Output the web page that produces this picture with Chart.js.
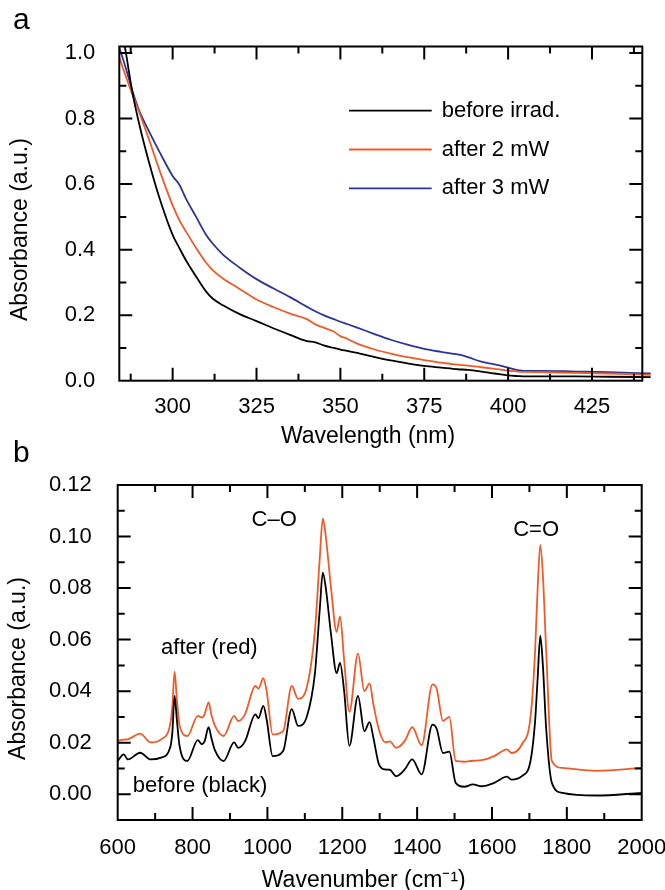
<!DOCTYPE html>
<html>
<head>
<meta charset="utf-8">
<script src="https://cdn.jsdelivr.net/npm/chart.js@4.4.1/dist/chart.umd.min.js"></script>
<style>
  html, body { margin: 0; padding: 0; background: #fff; width: 665px; height: 890px; overflow: hidden; }
  #chartA { position: absolute; left: 0; top: 0; }
  #chartB { position: absolute; left: 0; top: 435px; }
</style>
</head>
<body>
<canvas id="chartA" width="665" height="450"></canvas>
<canvas id="chartB" width="665" height="459"></canvas>
<script>
// ---------- Panel a: UV-vis absorbance ----------
const uvWavelength = [284, 286, 288, 290, 293, 296, 300, 302, 304, 307, 310, 312, 315, 320, 325, 330, 335, 340, 342.5, 345, 348, 350, 352, 355, 360, 365, 370, 375, 380, 385, 388, 392, 396, 400, 403, 405, 410, 420, 430, 442.5];
const absBefore = [1.12, 1.005, 0.88, 0.785, 0.665, 0.56, 0.445, 0.405, 0.367, 0.318, 0.272, 0.25, 0.23, 0.203, 0.182, 0.16, 0.14, 0.121, 0.117, 0.108, 0.1, 0.095, 0.091, 0.085, 0.073, 0.062, 0.053, 0.045, 0.04, 0.035, 0.033, 0.028, 0.022, 0.016, 0.014, 0.013, 0.013, 0.013, 0.012, 0.011];
const absAfter2mW = [0.99, 0.93, 0.874, 0.82, 0.735, 0.645, 0.535, 0.49, 0.455, 0.405, 0.36, 0.337, 0.312, 0.28, 0.248, 0.225, 0.205, 0.188, 0.172, 0.162, 0.15, 0.136, 0.128, 0.113, 0.096, 0.083, 0.072, 0.063, 0.055, 0.049, 0.046, 0.041, 0.036, 0.031, 0.028, 0.027, 0.026, 0.024, 0.022, 0.018];
const absAfter3mW = [1.02, 0.955, 0.885, 0.825, 0.76, 0.7, 0.625, 0.598, 0.555, 0.5, 0.445, 0.418, 0.385, 0.345, 0.31, 0.282, 0.255, 0.226, 0.212, 0.2, 0.188, 0.18, 0.173, 0.162, 0.143, 0.125, 0.11, 0.097, 0.088, 0.08, 0.072, 0.058, 0.05, 0.04, 0.032, 0.03, 0.03, 0.028, 0.026, 0.022];
const uvSeriesLabels = ['before irrad.', 'after 2 mW', 'after 3 mW'];
const uvXTicks = [287.5, 300, 312.5, 325, 337.5, 350, 362.5, 375, 387.5, 400, 412.5, 425, 437.5];
const uvXLabels = [300, 325, 350, 375, 400, 425];
const uvYTicks = [0, 0.1, 0.2, 0.3, 0.4, 0.5, 0.6, 0.7, 0.8, 0.9, 1.0];
const uvYLabels = [0, 0.2, 0.4, 0.6, 0.8, 1.0];

// ---------- Panel b: FTIR absorbance ----------
const irWavenumber = [600, 616, 627, 660, 688, 716, 740, 746, 752, 758, 765, 786, 814, 825, 832, 843, 850, 860, 883, 911, 922, 940, 968, 976, 989, 998, 1014, 1042, 1065, 1082, 1105, 1127, 1140, 1148, 1156, 1170, 1185, 1194, 1205, 1219, 1242, 1259, 1273, 1283, 1298, 1315, 1327, 1344, 1367, 1387, 1412, 1441, 1452, 1469, 1486, 1503, 1526, 1549, 1572, 1606, 1640, 1652, 1680, 1703, 1715, 1722, 1729, 1736, 1745, 1760, 1788, 1879, 2000];
const irBefore = [0.0129, 0.0155, 0.0135, 0.0161, 0.0135, 0.0142, 0.018, 0.024, 0.0382, 0.029, 0.019, 0.0129, 0.021, 0.0194, 0.0205, 0.026, 0.022, 0.017, 0.0129, 0.0201, 0.018, 0.0205, 0.031, 0.0295, 0.0343, 0.029, 0.0148, 0.0168, 0.033, 0.0265, 0.030, 0.047, 0.072, 0.086, 0.080, 0.062, 0.047, 0.051, 0.040, 0.0188, 0.0382, 0.0245, 0.028, 0.022, 0.0116, 0.0096, 0.0095, 0.007, 0.0096, 0.0135, 0.0077, 0.027, 0.0255, 0.016, 0.0165, 0.0044, 0.0029, 0.0038, 0.0031, 0.0044, 0.0068, 0.0057, 0.007, 0.013, 0.028, 0.045, 0.0615, 0.050, 0.025, 0.0044, 0.0005, -0.0005, 0.0005];
const irAfter = [0.0207, 0.0212, 0.0213, 0.0235, 0.0201, 0.0213, 0.027, 0.034, 0.0476, 0.037, 0.027, 0.0226, 0.0304, 0.0297, 0.031, 0.0356, 0.031, 0.0265, 0.0226, 0.0304, 0.0284, 0.031, 0.042, 0.041, 0.045, 0.040, 0.0232, 0.0245, 0.042, 0.037, 0.0414, 0.0636, 0.092, 0.107, 0.100, 0.080, 0.063, 0.069, 0.052, 0.032, 0.0546, 0.040, 0.043, 0.035, 0.025, 0.0201, 0.0205, 0.018, 0.0207, 0.026, 0.019, 0.0426, 0.041, 0.0285, 0.030, 0.0129, 0.0126, 0.013, 0.0132, 0.0148, 0.0174, 0.016, 0.0194, 0.030, 0.055, 0.080, 0.0968, 0.085, 0.055, 0.0129, 0.0102, 0.0091, 0.0102];
const irSeriesLabels = ['before (black)', 'after (red)'];
const irXTicks = [700, 800, 900, 1000, 1100, 1200, 1300, 1400, 1500, 1600, 1700, 1800, 1900];
const irXLabels = [600, 800, 1000, 1200, 1400, 1600, 1800, 2000];
const irYTicks = [0, 0.01, 0.02, 0.03, 0.04, 0.05, 0.06, 0.07, 0.08, 0.09, 0.10, 0.11, 0.12];
const irYLabels = [0, 0.02, 0.04, 0.06, 0.08, 0.10, 0.12];
const irAnnotations = [
  { text: 'C\u2013O', x: 1018, y: 0.1063 },
  { text: 'C=O', x: 1718, y: 0.1025 },
  { text: 'after (red)', x: 845, y: 0.0566 },
  { text: 'before (black)', x: 820, y: 0.0032 }
];

// ---------- shared styling / helpers ----------
const FONT = '"Liberation Sans", Arial, Helvetica, sans-serif';
const BLACK = '#000000', ORANGE = '#f05a28', BLUE = '#2b3595';
Chart.defaults.font.family = FONT;
Chart.defaults.color = '#000';

function labelCb(labels, digits) {
  return v => labels.some(l => Math.abs(l - v) < 1e-9) ? Number(v).toFixed(digits) : '';
}
function setTicks(allTicks, labels) {
  return scale => {
    const vals = allTicks.concat(labels).filter((v, i, arr) => arr.findIndex(w => Math.abs(w - v) < 1e-9) === i);
    vals.sort((p, q) => p - q);
    scale.ticks = vals.map(v => ({ value: v }));
  };
}
function fixWidth(w) { return s => { s.width = w; s.paddingTop = 0; s.paddingBottom = 0; }; }
function fixHeight(h) { return s => { s.height = h; s.paddingLeft = 0; s.paddingRight = 0; }; }

const frameTicks = {
  id: 'frameTicks',
  afterDraw(chart, args, o) {
    const { ctx, chartArea: a } = chart;
    const xs = chart.scales.x, ys = chart.scales.y;
    ctx.save();
    ctx.strokeStyle = '#000';
    ctx.lineWidth = 2;
    ctx.beginPath();
    xs.ticks.forEach(t => {
      const p = xs.getPixelForValue(t.value);
      if (p < a.left + 1.5 || p > a.right - 1.5) return;
      const L = t.label !== '' ? o.major : o.minor;
      ctx.moveTo(p, a.bottom); ctx.lineTo(p, a.bottom - L);
      ctx.moveTo(p, a.top); ctx.lineTo(p, a.top + L);
    });
    ys.ticks.forEach(t => {
      const p = ys.getPixelForValue(t.value);
      if (p < a.top + 1.5 || p > a.bottom - 1.5) return;
      const L = t.label !== '' ? o.major : o.minor;
      ctx.moveTo(a.left, p); ctx.lineTo(a.left + L, p);
      ctx.moveTo(a.right, p); ctx.lineTo(a.right - L, p);
    });
    ctx.stroke();
    ctx.strokeRect(a.left, a.top, a.right - a.left, a.bottom - a.top);
    ctx.restore();
  }
};

const panelLetter = {
  id: 'panelLetter',
  afterDraw(chart, args, o) {
    const ctx = chart.ctx;
    ctx.save();
    ctx.font = o.size + 'px ' + FONT;
    ctx.fillStyle = '#000';
    ctx.textAlign = 'left';
    ctx.textBaseline = 'alphabetic';
    ctx.fillText(o.text, o.x, o.y);
    ctx.restore();
  }
};

const insideLegend = {
  id: 'insideLegend',
  afterDraw(chart, args, o) {
    const { ctx, chartArea: a } = chart;
    ctx.save();
    ctx.font = o.size + 'px ' + FONT;
    ctx.textAlign = 'left';
    ctx.textBaseline = 'middle';
    chart.data.datasets.forEach((ds, i) => {
      const y = a.top + o.top + i * o.gap;
      ctx.strokeStyle = ds.borderColor;
      ctx.lineWidth = ds.borderWidth;
      ctx.beginPath();
      ctx.moveTo(a.left + o.lineStart, y);
      ctx.lineTo(a.left + o.lineEnd, y);
      ctx.stroke();
      ctx.fillStyle = '#000';
      ctx.fillText(ds.label, a.left + o.textStart, y);
    });
    ctx.restore();
  }
};

const annotate = {
  id: 'annotate',
  afterDraw(chart, args, o) {
    const ctx = chart.ctx, xs = chart.scales.x, ys = chart.scales.y;
    ctx.save();
    ctx.font = o.size + 'px ' + FONT;
    ctx.fillStyle = '#000';
    ctx.textAlign = 'center';
    ctx.textBaseline = 'middle';
    o.items.forEach(it => ctx.fillText(it.text, xs.getPixelForValue(it.x), ys.getPixelForValue(it.y)));
    ctx.restore();
  }
};

const tickFont = { size: 22, family: FONT };
const titleFont = { size: 23, family: FONT };

function series(xArr, yArr, label, color, clip) {
  return {
    label: label,
    data: xArr.map((x, i) => ({ x: x, y: yArr[i] })),
    borderColor: color,
    backgroundColor: color,
    borderWidth: 1.8,
    pointRadius: 0,
    fill: false,
    cubicInterpolationMode: 'monotone',
    clip: clip
  };
}

// ---------- Chart a ----------
new Chart(document.getElementById('chartA'), {
  type: 'line',
  data: {
    datasets: [
      series(uvWavelength, absBefore, uvSeriesLabels[0], BLACK, { left: 0, top: 0, right: 10, bottom: 0 }),
      series(uvWavelength, absAfter2mW, uvSeriesLabels[1], ORANGE, { left: 0, top: 0, right: 10, bottom: 0 }),
      series(uvWavelength, absAfter3mW, uvSeriesLabels[2], BLUE, { left: 0, top: 0, right: 10, bottom: 0 })
    ]
  },
  options: {
    responsive: false,
    devicePixelRatio: 1,
    animation: false,
    events: [],
    layout: { padding: { top: 46.5, right: 22.7, left: 0, bottom: 0 } },
    scales: {
      x: {
        type: 'linear', min: 284.1, max: 440,
        afterBuildTicks: setTicks(uvXTicks, uvXLabels),
        afterFit: fixHeight(69.3),
        grid: { display: false, drawTicks: false },
        border: { display: false },
        ticks: { callback: labelCb(uvXLabels, 0), autoSkip: false, maxRotation: 0, padding: 13.4, font: tickFont, color: '#000' },
        title: { display: true, text: 'Wavelength (nm)    ', font: titleFont, color: '#000', padding: { top: 0, bottom: 0 } }
      },
      y: {
        type: 'linear', min: 0, max: 1.02,
        afterBuildTicks: setTicks(uvYTicks, uvYLabels),
        afterFit: fixWidth(119.3),
        grid: { display: false, drawTicks: false },
        border: { display: false },
        ticks: { callback: labelCb(uvYLabels, 1), autoSkip: false, padding: 24, font: tickFont, color: '#000' },
        title: { display: true, text: 'Absorbance (a.u.)     ', font: titleFont, color: '#000', padding: { top: 6.7, bottom: 0 } }
      }
    },
    plugins: {
      legend: { display: false },
      tooltip: { enabled: false },
      frameTicks: { major: 13, minor: 7 },
      panelLetter: { text: 'a', x: 13, y: 29, size: 30 },
      insideLegend: { size: 22, top: 64.2, gap: 38.8, lineStart: 229.7, lineEnd: 312.4, textStart: 322.4 }
    }
  },
  plugins: [frameTicks, panelLetter, insideLegend]
});

// ---------- Chart b ----------
new Chart(document.getElementById('chartB'), {
  type: 'line',
  data: {
    datasets: [
      series(irWavenumber, irBefore, irSeriesLabels[0], BLACK, 0),
      series(irWavenumber, irAfter, irSeriesLabels[1], ORANGE, 0)
    ]
  },
  options: {
    responsive: false,
    devicePixelRatio: 1,
    animation: false,
    events: [],
    layout: { padding: { top: 50, right: 23.3, left: 0, bottom: 0 } },
    scales: {
      x: {
        type: 'linear', min: 600, max: 2000,
        afterBuildTicks: setTicks(irXTicks, irXLabels),
        afterFit: fixHeight(74),
        grid: { display: false, drawTicks: false },
        border: { display: false },
        ticks: { callback: labelCb(irXLabels, 0), autoSkip: false, maxRotation: 0, padding: 14.6, font: tickFont, color: '#000' },
        title: { display: true, text: 'Wavenumber (cm\u207B\u00B9)     ', font: titleFont, color: '#000', padding: { top: 0, bottom: 0 } }
      },
      y: {
        type: 'linear', min: -0.01, max: 0.12,
        afterBuildTicks: setTicks(irYTicks, irYLabels),
        afterFit: fixWidth(117.7),
        grid: { display: false, drawTicks: false },
        border: { display: false },
        ticks: { callback: labelCb(irYLabels, 2), autoSkip: false, padding: 26, font: tickFont, color: '#000' },
        title: { display: true, text: 'Absorbance (a.u.)     ', font: titleFont, color: '#000', padding: { top: 5, bottom: 0 } }
      }
    },
    plugins: {
      legend: { display: false },
      tooltip: { enabled: false },
      frameTicks: { major: 13, minor: 7 },
      panelLetter: { text: 'b', x: 13, y: 26.7, size: 30 },
      annotate: { size: 22, items: irAnnotations }
    }
  },
  plugins: [frameTicks, panelLetter, annotate]
});
</script>
</body>
</html>
